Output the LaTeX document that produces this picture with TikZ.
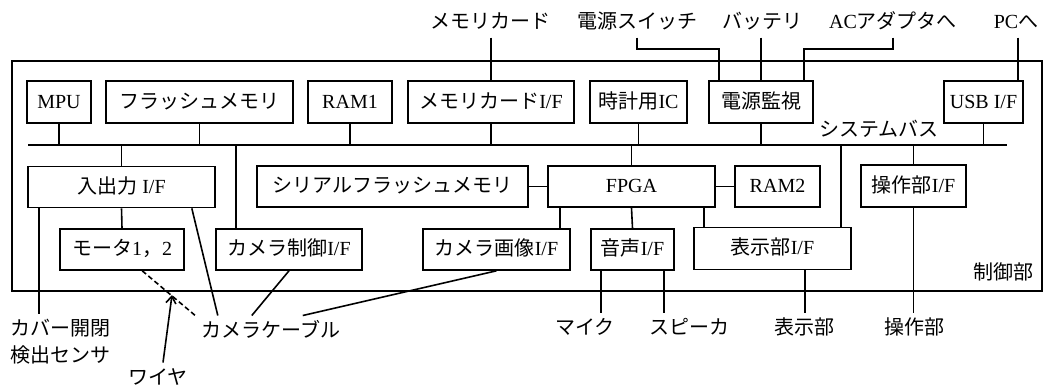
\documentclass[tikz,border=0pt]{standalone}
\usepackage{fontspec}
\setmainfont{Noto Sans CJK JP}
\newfontfamily\lt{Liberation Serif}
\usetikzlibrary{arrows.meta}
\begin{document}
\begin{tikzpicture}[x=1pt,y=-1pt,line width=1.6pt,
  every node/.style={font=\fontsize{20}{24}\selectfont,inner sep=0pt,text height=15pt,text depth=3pt},
  box/.style={draw,line width=1.6pt},
  lab/.style={outer ysep=6.5pt},
  wiredash/.style={dash pattern=on 5pt off 3pt}]
\useasboundingbox (0,0) rectangle (1044,388);
% outer frame
\node[box,minimum width=1030pt,minimum height=230pt] (frame) at (527,176) {};
\node (ctl) at (1003,273) {制御部};
% system bus
\coordinate (busL) at (28,145);
\coordinate (busR) at (1007,145);
\draw (busL) -- (busR);
\node (busname) at (879,130) {システムバス};
% top row
\node[box,minimum width=64pt,minimum height=42pt] (mpu) at (59,102) {\lt MPU};
\node[box,minimum width=187pt,minimum height=42pt] (flash) at (199.5,102) {フラッシュメモリ};
\node[box,minimum width=84pt,minimum height=42pt] (ram1) at (350,102) {\lt RAM1};
\node[box,minimum width=166pt,minimum height=42pt] (mcif) at (491,102) {メモリカード{\lt I/F}};
\node[box,minimum width=97pt,minimum height=42pt] (clock) at (638.5,102) {時計用{\lt IC}};
\node[box,minimum width=104pt,minimum height=42pt] (power) at (761,102) {電源監視};
\node[box,minimum width=79pt,minimum height=42pt] (usb) at (983.5,102) {\lt USB I/F};
% middle row
\node[box,minimum width=187pt,minimum height=41pt] (io) at (121.5,187) {入出力{\lt\ I/F}};
\node[box,minimum width=271pt,minimum height=41pt] (serial) at (392.5,186.5) {シリアルフラッシュメモリ};
\node[box,minimum width=167pt,minimum height=41pt] (fpga) at (631.5,186.5) {\lt FPGA};
\node[box,minimum width=85pt,minimum height=41pt] (ram2) at (777.5,186.5) {\lt RAM2};
\node[box,minimum width=105pt,minimum height=42pt] (opif) at (913.5,186) {操作部{\lt I/F}};
% bottom row
\node[box,minimum width=124pt,minimum height=41pt] (motor) at (122,249.5) {モータ{\lt 1}，{\lt 2}};
\node[box,minimum width=146pt,minimum height=41pt] (camctl) at (289,249.5) {カメラ制御{\lt I/F}};
\node[box,minimum width=147pt,minimum height=41pt] (camimg) at (496.5,249.5) {カメラ画像{\lt I/F}};
\node[box,minimum width=83pt,minimum height=41pt] (audio) at (632.5,249.5) {音声{\lt I/F}};
\node[box,minimum width=157pt,minimum height=42pt] (disp) at (772.5,248.5) {表示部{\lt I/F}};
% top row to bus
\foreach \n in {mpu,flash,ram1,mcif,clock,power,usb}
  \draw (\n.south) -- (\n.south |- busL);
% bus to lower blocks
\draw (io.north |- busL) -- (io.north);
\coordinate (ccx) at ([xshift=21pt]camctl.north west);
\draw (ccx |- busL) -- (ccx);
\draw (fpga.north |- busL) -- (fpga.north);
\coordinate (dbx) at ([xshift=-11pt]disp.north east);
\draw (dbx |- busL) -- (dbx);
\draw (opif.north |- busL) -- (opif.north);
% internal links
\draw (io.south) -- (motor.north);
\draw (serial.east) -- (fpga.west);
\draw (fpga.east) -- (ram2.west);
\coordinate (cix) at ([xshift=-11pt]camimg.north east);
\draw (cix |- fpga.south) -- (cix);
\draw (fpga.south) -- (audio.north);
\coordinate (dfx) at ([xshift=11pt]disp.north west);
\draw (dfx |- fpga.south) -- (dfx);
% top external labels
\node[lab] (mc) at (490,22) {メモリカード};
\node[lab] (psw) at (637,22) {電源スイッチ};
\node[lab] (bat) at (762,22) {バッテリ};
\node[lab] (ac) at (893,22) {{\lt AC}アダプタへ};
\node[lab] (pc) at (1016,22) {{\lt PC}へ};
\draw (mcif.north |- mc.south) -- (mcif.north);
\coordinate (pwl) at ([xshift=11pt]power.north west);
\draw (psw.south) -- ++(0,11.5) -| (pwl);
\draw (power.north |- bat.south) -- (power.north);
\coordinate (pwr) at ([xshift=-10pt]power.north east);
\draw (ac.south) -- ++(0,11.5) -| (pwr);
\coordinate (pcx) at ([xshift=-6pt]usb.north east);
\draw (pcx |- pc.south) -- (pcx);
% bottom external labels
\node[lab,anchor=west] (cover1) at (10,329) {カバー開閉};
\node[anchor=west] (cover2) at (10,356) {検出センサ};
\node[lab] (cab) at (271,331) {カメラケーブル};
\node[lab] (wire) at (158,378) {ワイヤ};
\node[lab] (mic) at (585,328) {マイク};
\node[lab] (spk) at (689,328) {スピーカ};
\node[lab] (displab) at (804,328) {表示部};
\node[lab] (oplab) at (914,328) {操作部};
% cover sensor
\coordinate (cvx) at ([xshift=12pt]io.south west);
\draw (cvx) -- (cvx |- cover1.north);
% camera cables
\coordinate (io2) at ([xshift=-24pt]io.south east);
\coordinate (c1) at ([xshift=17pt]cab.north west);
\coordinate (c2) at ([xshift=51pt]cab.north west);
\coordinate (c3) at ([xshift=102pt]cab.north west);
\draw (io2) -- (c1);
\draw (camctl.south) -- (c2);
\draw (camimg.south) -- (c3);
% wire
\coordinate (mw) at ([xshift=83pt]motor.south west);
\coordinate (dend) at (197,317);
\draw[wiredash] (mw) -- (dend);
\coordinate (wtip) at (172,295);
\draw[-{Straight Barb[length=7pt,width=10pt]}] ([xshift=5pt]wire.north) -- (wtip);
% audio, display, operation
\coordinate (amx) at ([xshift=11pt]audio.south west);
\coordinate (asx) at ([xshift=-11pt]audio.south east);
\draw (amx) -- (amx |- mic.north);
\draw (asx) -- (asx |- spk.north);
\coordinate (dsx) at ([xshift=-47pt]disp.south east);
\draw (dsx) -- (dsx |- displab.north);
\draw (opif.south) -- (opif.south |- oplab.north);
\end{tikzpicture}
\end{document}
